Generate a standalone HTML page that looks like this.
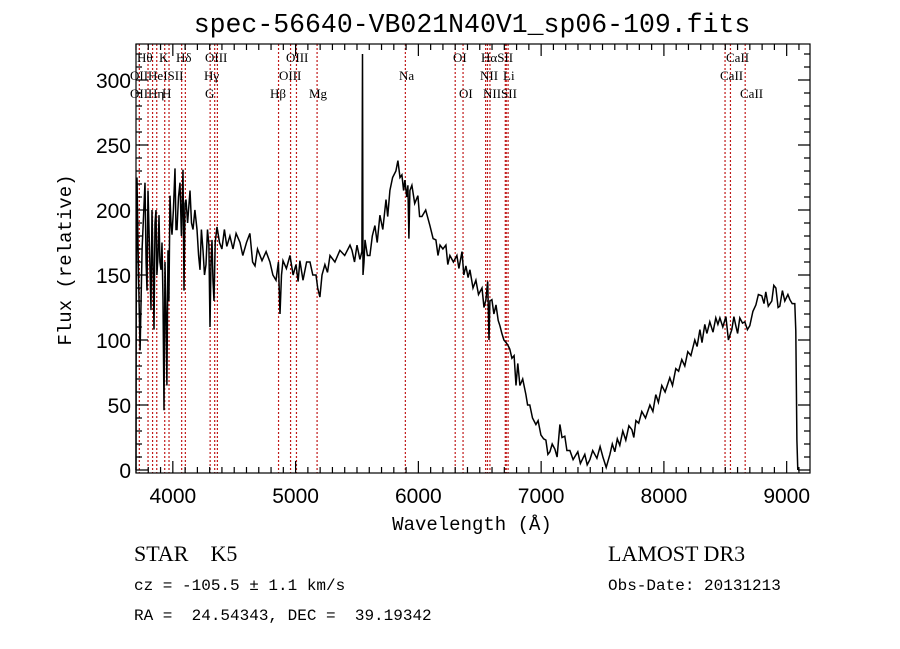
<!DOCTYPE html>
<html><head><meta charset="utf-8"><style>
body{margin:0;background:#fff;}
svg{display:block;}
text{white-space:pre;}
</style></head><body>
<svg id="chart" width="900" height="649" viewBox="0 0 900 649" xmlns="http://www.w3.org/2000/svg">
<rect width="900" height="649" fill="#fff"/>
<text x="472" y="32" text-anchor="middle" font-family="Liberation Mono, monospace" font-size="26.5">spec-56640-VB021N40V1_sp06-109.fits</text>
<g id="lines"></g>
<g id="spec"></g>
<g id="axes"></g>
<text x="472" y="530" text-anchor="middle" font-family="Liberation Mono, monospace" font-size="19">Wavelength (Å)</text>
<text transform="translate(71,260) rotate(-90)" text-anchor="middle" font-family="Liberation Mono, monospace" font-size="19">Flux (relative)</text>
<text x="134" y="561" font-family="Liberation Serif, serif" font-size="22" xml:space="preserve">STAR    K5</text>
<text x="608" y="561" font-family="Liberation Serif, serif" font-size="22">LAMOST DR3</text>
<text x="134" y="590" font-family="Liberation Mono, monospace" font-size="16">cz = -105.5 ± 1.1 km/s</text>
<text x="608" y="590" font-family="Liberation Mono, monospace" font-size="16">Obs-Date: 20131213</text>
<text x="134" y="620" font-family="Liberation Mono, monospace" font-size="16" xml:space="preserve">RA =  24.54343, DEC =  39.19342</text>
</svg>
<script>
const wavelengths=[3700,3702,3708,3720,3733,3750,3773,3782,3790,3798,3810,3822,3830,3840,3847,3855,3863,3870,3879,3887,3895,3904,3912,3920,3928,3936,3944,3952,3961,3968,3977,3985,3993,4005,4018,4026,4034,4046,4058,4070,4083,4091,4099,4107,4120,4140,4152,4164,4180,4197,4210,4221,4233,4246,4258,4270,4282,4294,4303,4311,4319,4327,4335,4345,4360,4380,4400,4420,4440,4465,4490,4515,4547,4570,4600,4628,4650,4669,4690,4726,4760,4791,4815,4840,4860,4873,4885,4897,4925,4954,4980,5003,5020,5035,5060,5090,5117,5140,5166,5180,5198,5215,5239,5260,5280,5320,5361,5400,5443,5459,5480,5500,5524,5540,5545,5549,5557,5565,5585,5605,5625,5646,5665,5687,5710,5736,5750,5768,5790,5817,5833,5850,5866,5880,5890,5905,5915,5923,5931,5947,5970,5996,6010,6029,6060,6094,6120,6143,6160,6176,6200,6224,6240,6257,6285,6314,6330,6355,6370,6387,6405,6420,6445,6469,6490,6518,6535,6550,6565,6575,6583,6599,6615,6632,6650,6664,6680,6697,6715,6729,6745,6762,6780,6795,6810,6827,6850,6876,6890,6908,6930,6957,6975,6998,7020,7039,7055,7071,7090,7112,7130,7153,7170,7193,7210,7234,7260,7299,7320,7356,7375,7397,7420,7454,7480,7503,7530,7560,7580,7600,7620,7641,7665,7690,7715,7739,7755,7772,7795,7820,7850,7886,7910,7934,7955,7983,8010,8048,8070,8097,8120,8146,8170,8195,8220,8252,8270,8293,8310,8333,8350,8374,8400,8423,8440,8456,8480,8505,8525,8553,8570,8586,8600,8618,8640,8659,8680,8700,8725,8749,8770,8797,8815,8830,8850,8879,8895,8912,8930,8944,8965,8985,9010,9026,9045,9066,9074,9083,9091];
const fluxes=[0,120,225,150,92,170,221,160,138,215,170,123,200,150,108,190,200,150,165,196,160,154,175,131,46,160,120,65,169,130,211,190,181,200,232,185,185,210,221,180,231,138,205,208,190,215,190,185,200,185,165,154,185,169,150,158,185,173,110,160,177,145,130,175,187,175,170,185,172,180,170,182,175,165,175,182,160,157,170,161,168,160,150,146,160,120,150,161,155,165,150,158,145,161,146,160,160,150,150,140,133,150,158,152,165,160,169,165,173,169,160,173,162,168,320,150,160,177,165,165,180,188,175,196,185,208,195,215,225,230,238,225,227,215,223,210,219,178,215,219,205,211,195,195,200,188,178,177,165,173,170,173,158,165,160,165,155,168,150,157,148,154,140,146,135,140,125,131,145,100,130,131,120,127,115,111,105,100,98,96,93,86,88,65,82,65,70,58,50,50,40,35,38,27,24,23,12,14,20,16,10,35,25,26,15,15,8,14,5,12,4,8,15,9,18,10,2,12,20,14,24,19,30,23,34,31,25,38,36,45,40,50,45,58,52,65,60,71,65,78,76,85,80,91,88,100,95,108,98,112,105,114,106,117,112,117,110,118,100,108,118,111,105,117,113,114,108,111,122,127,135,134,128,137,126,130,142,140,125,126,138,130,135,131,128,128,107,23,0];
const lineWaves=[3727,3798,3835,3869,3934,3969,4072,4102,4304,4341,4363,4861,4959,5007,5175,5894,6300,6364,6548,6563,6583,6708,6716,6731,8498,8542,8662];
const xTicks=[4000,5000,6000,7000,8000,9000];
const yTicks=[0,50,100,150,200,250,300];
const lineLabels=[["Hθ",137,58],["K",159,58],["Hδ",176,58],["OIII",205,58],["OIII",286,58],["OI",453,58],["HαSII",481,58],["CaII",726,58],
["OIIHeISII",130,76],["Hγ",204,76],["OIII",279,76],["Na",399,76],["NII",480,76],["Li",503,76],["CaII",720,76],
["OIIHη",130,94],["H",162,94],["G",205,94],["Hβ",270,94],["Mg",309,94],["OI",459,94],["NIISII",483,94],["CaII",740,94]];
const L=136,R=810,T=44,B=473,X0=3700,X1=9190,Y0=-2.3,Y1=327.7;
const sx=w=>L+(w-X0)/(X1-X0)*(R-L);
const sy=f=>B-(f-Y0)/(Y1-Y0)*(B-T);
const NS="http://www.w3.org/2000/svg";
function mk(tag,attrs,parent){const e=document.createElementNS(NS,tag);for(const k in attrs)e.setAttribute(k,attrs[k]);parent.appendChild(e);return e;}
const gl=document.getElementById('lines');
lineWaves.forEach(w=>{const e=mk('line',{x1:sx(w),x2:sx(w),y1:T,y2:B,stroke:'#c01818','stroke-width':1.2,'stroke-dasharray':'2,2'},gl);

});
lineLabels.forEach(l=>{const t=mk('text',{x:l[1],y:l[2]+4,'font-family':'Liberation Serif, serif','font-size':13},gl);t.textContent=l[0];

});
const gs=document.getElementById('spec');
let d='';wavelengths.forEach((w,i)=>{d+=(i?'L':'M')+sx(w).toFixed(1)+','+sy(fluxes[i]).toFixed(1);});
const p=mk('path',{d:d,fill:'none',stroke:'#000','stroke-width':1.5},gs);


const ga=document.getElementById('axes');
const fr=mk('rect',{x:L,y:T,width:R-L,height:B-T,fill:'none',stroke:'#000','stroke-width':1.2},ga);


let td='';
for(let w=3700;w<=X1;w+=100){const x=sx(w);const len=(w%1000===0)?12:6;td+=`M${x},${B}v${-len}M${x},${T}v${len}`;}
for(let f=0;f<=Y1;f+=10){const y=sy(f);const len=(f%50===0)?12:6;td+=`M${L},${y}h${len}M${R},${y}h${-len}`;}
const tk=mk('path',{d:td,stroke:'#000','stroke-width':1.2,fill:'none'},ga);


xTicks.forEach(w=>{const t=mk('text',{x:sx(w),y:B+30,'text-anchor':'middle','font-family':'Liberation Sans, sans-serif','font-size':21},ga);t.textContent=w;

});
yTicks.forEach(f=>{const t=mk('text',{x:L-5,y:sy(f)+8,'text-anchor':'end','font-family':'Liberation Sans, sans-serif','font-size':21},ga);t.textContent=f;

});
</script>
</body></html>
